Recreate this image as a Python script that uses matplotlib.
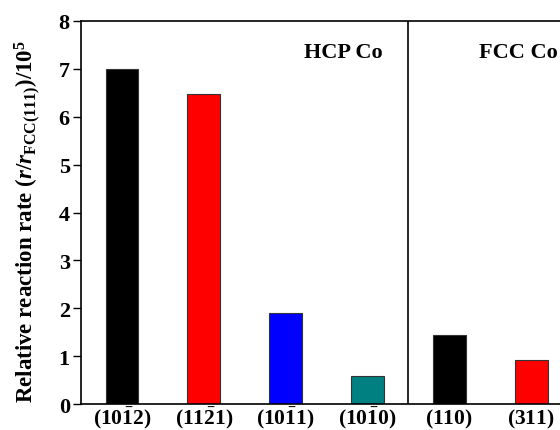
import numpy as np
import matplotlib
matplotlib.use("Agg")
import matplotlib.pyplot as plt

plt.rcParams.update({
    'font.family': 'Liberation Serif',
    'font.weight': 'bold',
    'axes.labelweight': 'bold',
    'mathtext.fontset': 'custom',
    'mathtext.rm': 'Liberation Serif:bold',
    'mathtext.it': 'Liberation Serif:italic:bold',
    'mathtext.bf': 'Liberation Serif:bold',
})

facets = [r'$(10\bar{1}2)$', r'$(11\bar{2}1)$', r'$(10\bar{1}1)$',
          r'$(10\bar{1}0)$', r'$(110)$', r'$(311)$']
rates = [7.0, 6.48, 1.9, 0.58, 1.44, 0.93]
colors = ['black', 'red', 'blue', '#008080', 'black', 'red']
groups = ['HCP Co', 'FCC Co']

fig = plt.figure(figsize=(5.6, 4.31), dpi=100)
ax = fig.add_axes([0.1446, 0.060, 0.877, 0.889])
x = np.arange(len(rates))
ax.bar(x, rates, width=0.4, color=colors, edgecolor='#333333', linewidth=0.8)
ax.axvline(3.5, color='black', lw=1.2)
ax.set_xlim(-0.5, 5.5)
ax.set_ylim(0, 8)
ax.set_xticks(x)
ax.set_xticklabels(facets, fontsize=15.5)
for lbl in ax.get_xticklabels():
    lbl.set_va('baseline')
ax.tick_params(axis='x', length=0, pad=14)
ax.tick_params(axis='y', direction='out', length=6, width=1, labelsize=16, pad=2)
ax.set_yticks(range(9))
for s in ax.spines.values():
    s.set_linewidth(1.2)
ax.set_ylabel(r'Relative reaction rate ($r$/$r_{\mathrm{FCC(111)}}$)/10$^5$', fontsize=16.5)
ax.yaxis.set_label_coords(-0.077, 0.48)
ax.text(2.71, 7.35, groups[0], fontsize=16, ha='center', va='center')
ax.text(4.84, 7.35, groups[1], fontsize=16, ha='center', va='center')
fig.savefig('out.png', dpi=100)
